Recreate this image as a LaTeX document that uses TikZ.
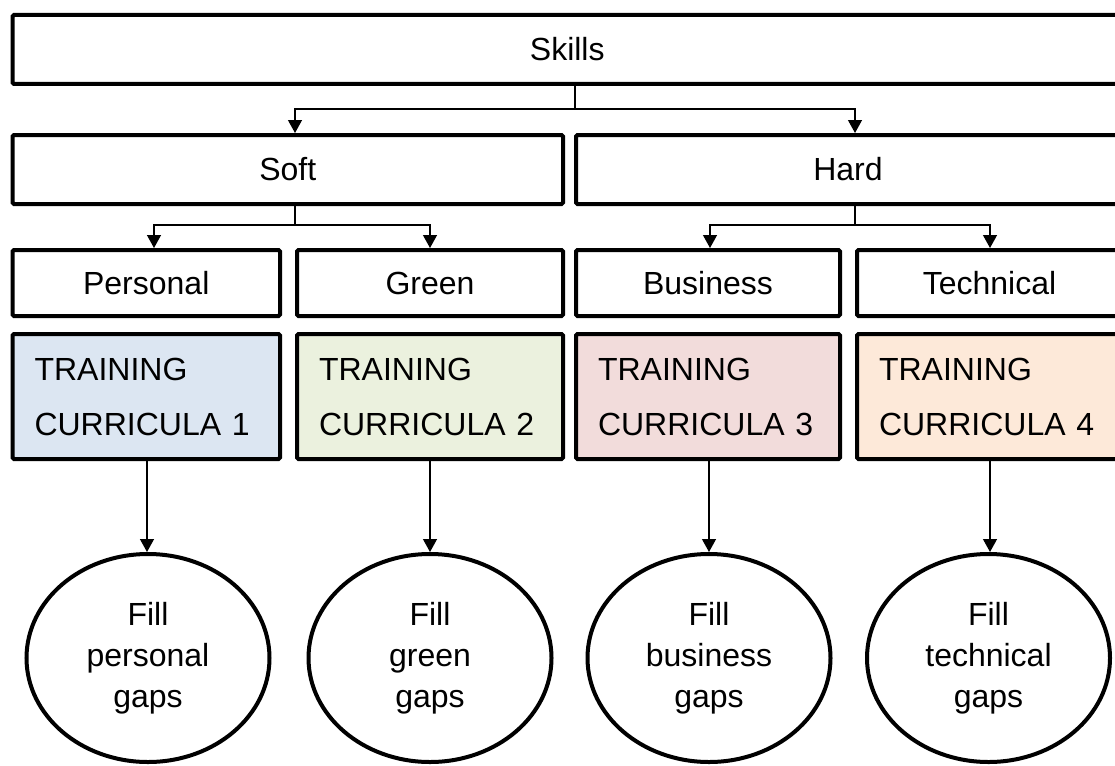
\documentclass[tikz,border=0pt]{standalone}
\usepackage{fontspec}
\setmainfont{Liberation Sans}
\usetikzlibrary{arrows.meta,shapes.geometric}
\definecolor{tblue}{HTML}{DCE6F2}
\definecolor{tgreen}{HTML}{EBF1DE}
\definecolor{tred}{HTML}{F2DCDB}
\definecolor{torange}{HTML}{FDE9D9}
\begin{document}
\begin{tikzpicture}[x=1pt,y=-1pt,
  box/.style={draw, line width=4pt, rounded corners=1.5pt, inner sep=0pt,
    font=\fontsize{32}{38}\selectfont},
  train/.style={box, minimum height=125pt, align=left, inner xsep=22pt,
    font=\fontsize{32}{55}\selectfont},
  gap/.style={draw, ellipse, line width=4pt, minimum width=243pt, minimum height=208pt,
    inner sep=0pt, align=center, font=\fontsize{32}{41}\selectfont},
  conn/.style={line width=1.3pt, -{Triangle[width=14pt,length=13pt]}}]
\useasboundingbox (0,0) rectangle (1115,765);
\clip (0,0) rectangle (1115,765);

% level 1
\node[box, minimum width=1109.5pt, minimum height=69pt] (skills) at (567.25,49.5) {Skills};
% level 2
\node[box, minimum width=550.5pt, minimum height=69pt] (soft) at (287.75,169.5) {Soft};
\node[box, minimum width=544pt, minimum height=69pt] (hard) at (848,169.5) {Hard};
% level 3
\node[box, minimum width=267.5pt, minimum height=66pt] (personal) at (146.25,283) {Personal};
\node[box, minimum width=266pt, minimum height=66pt] (green) at (430,283) {Green};
\node[box, minimum width=264pt, minimum height=66pt] (business) at (708,283) {Business};
\node[box, minimum width=265pt, minimum height=66pt] (technical) at (989.5,283) {Technical};
% training
\node[train, fill=tblue, text width=223.5pt] (tc1) at (146.25,396.5) {TRAINING\\CURRICULA 1};
\node[train, fill=tgreen, text width=222pt] (tc2) at (430,396.5) {TRAINING\\CURRICULA 2};
\node[train, fill=tred, text width=220pt] (tc3) at (708,396.5) {TRAINING\\CURRICULA 3};
\node[train, fill=torange, text width=221pt] (tc4) at (989.5,396.5) {TRAINING\\CURRICULA 4};
% gaps
\node[gap] (g1) at (148,658) {Fill\\personal\\gaps};
\node[gap] (g2) at (430,658) {Fill\\green\\gaps};
\node[gap] (g3) at (709,658) {Fill\\business\\gaps};
\node[gap] (g4) at (988.5,658) {Fill\\technical\\gaps};

% junction points
\coordinate (j1) at (575,109);
\coordinate (j2) at (295,225);
\coordinate (j3) at (855,225);

% connectors
\draw[line width=1.3pt] (skills.south -| j1) -- (j1);
\draw[conn] (j1) -| (soft.north -| 295,0);
\draw[conn] (j1) -| (hard.north -| j3);
\draw[line width=1.3pt] (soft.south -| j2) -- (j2);
\draw[conn] (j2) -| (personal.north -| 154,0);
\draw[conn] (j2) -| (green.north);
\draw[line width=1.3pt] (hard.south -| j3) -- (j3);
\draw[conn] (j3) -| (business.north -| 710,0);
\draw[conn] (j3) -| (technical.north -| 990,0);

\draw[conn] (tc1.south -| 147,0) -- (g1.north -| 147,0);
\draw[conn] (tc2.south -| g2.north) -- (g2.north);
\draw[conn] (tc3.south -| g3.north) -- (g3.north);
\draw[conn] (tc4.south -| 990,0) -- (g4.north -| 990,0);
\end{tikzpicture}
\end{document}
